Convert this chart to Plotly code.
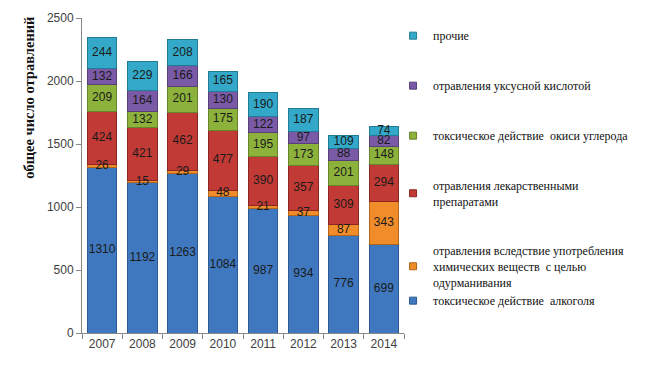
import plotly.graph_objects as go

years = ["2007", "2008", "2009", "2010", "2011", "2012", "2013", "2014"]
alcohol = [1310, 1192, 1263, 1084, 987, 934, 776, 699]
stupefy = [26, 15, 29, 48, 21, 37, 87, 343]
drugs = [424, 421, 462, 477, 390, 357, 309, 294]
co = [209, 132, 201, 175, 195, 173, 201, 148]
acetic = [132, 164, 166, 130, 122, 97, 88, 82]
other = [244, 229, 208, 165, 190, 187, 109, 74]

series = [
    ("токсическое действие  алкоголя", alcohol, "#3F78BE", "#2B5A94", "g1"),
    ("отравления вследствие употребления<br>химических веществ  с целью<br>одурманивания", stupefy, "#F08C2A", "#B0651A", "g1"),
    ("отравления лекарственными<br>препаратами", drugs, "#C23A35", "#8C2623", "g3"),
    ("токсическое действие  окиси углерода", co, "#8DB23C", "#66842A", "g4"),
    ("отравления уксусной кислотой", acetic, "#7A5AA6", "#574078", "g5"),
    ("прочие", other, "#33A8C8", "#237C95", "g6"),
]

fig = go.Figure()
base = [0] * len(years)
label_x, label_y, label_t = [], [], []
n = len(series)
for i, (name, vals, col, edge, grp) in enumerate(series):
    fig.add_trace(go.Bar(
        x=years, y=vals, name=name, legendgroup=grp, showlegend=False,
        marker=dict(color=col, line=dict(color=edge, width=1)),
    ))
    # legend entry with a small square swatch
    fig.add_trace(go.Scatter(
        x=[None], y=[None], name=name, legendgroup=grp, legendrank=n - i,
        mode="markers", marker=dict(symbol="square", size=7, color=col,
                                    line=dict(color=edge, width=1)),
    ))
    for j, v in enumerate(vals):
        label_x.append(years[j])
        label_y.append(base[j] + v / 2)
        label_t.append(str(v))
        base[j] += v

fig.add_trace(go.Scatter(
    x=label_x, y=label_y, text=label_t, mode="text", showlegend=False,
    textfont=dict(family="Liberation Sans, Arial", size=12, color="#1a1a1a"),
    hoverinfo="skip", cliponaxis=False,
))

fig.add_annotation(
    text="<b>общее число отравлений</b>", textangle=-90,
    xref="paper", yref="paper", x=-0.165, y=1.01, xanchor="center", yanchor="top",
    showarrow=False,
    font=dict(family="Liberation Serif, Times New Roman", size=14.5, color="#111111"),
)

fig.update_layout(
    barmode="stack", bargap=0.27,
    width=647, height=375,
    margin=dict(l=74, r=251, t=10, b=50, autoexpand=False),
    paper_bgcolor="white", plot_bgcolor="white",
    font=dict(family="Liberation Sans, Arial", size=12, color="#595959"),
    showlegend=True,
    legend=dict(
        x=0.966, y=0.99, xanchor="left", yanchor="top",
        traceorder="grouped", tracegroupgap=31,
        font=dict(family="Liberation Serif, Times New Roman", size=12, color="#111111"),
        itemwidth=30, bgcolor="rgba(0,0,0,0)",
    ),
    xaxis=dict(
        showline=True, linecolor="#888888", linewidth=1, automargin=False,
        ticks="outside", tickcolor="#888888", ticklen=5,
        tickson="boundaries", tickfont=dict(size=12, color="#404040"),
        showgrid=False,
    ),
    yaxis=dict(
        range=[0, 2500], tickvals=[0, 500, 1000, 1500, 2000, 2500],
        showline=True, linecolor="#888888", linewidth=1, automargin=False,
        ticks="outside", tickcolor="#888888", ticklen=5,
        showgrid=False, zeroline=False,
        tickfont=dict(size=12, color="#404040"),
    ),
)

fig.write_html("out.html")
